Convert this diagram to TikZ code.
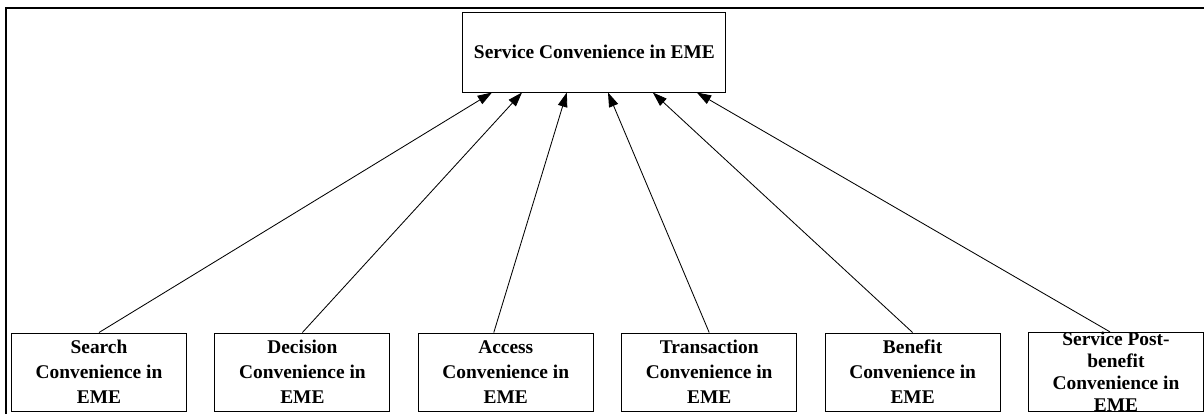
\documentclass[tikz,border=0pt]{standalone}
\usepackage{fontspec}
\setmainfont{Liberation Serif}
\usetikzlibrary{arrows.meta}
\begin{document}
\begin{tikzpicture}[
  box/.style={draw, line width=0.7pt, minimum width=4.375cm, minimum height=1.95cm, align=center, inner sep=0pt, font=\fontsize{13.8}{17.8}\selectfont\bfseries},
  arr/.style={-{Triangle[length=0.36cm,width=0.24cm]}, line width=0.6pt}]
\useasboundingbox (0,0) rectangle (30.1,-10.35);
\draw[line width=1.4pt] (0.15,-10.35) -- (0.15,-0.2) -- (30.1,-0.2);

\node[box, minimum width=6.575cm, minimum height=2cm] (top) at (14.86,-1.3) {Service Convenience in EME};

\node[box] (search) at (2.475,-9.3) {Search\\Convenience in\\EME};
\node[box] (decision) at (7.56,-9.3) {Decision\\Convenience in\\EME};
\node[box] (access) at (12.645,-9.3) {Access\\Convenience in\\EME};
\node[box] (transaction) at (17.73,-9.3) {Transaction\\Convenience in\\EME};
\node[box] (benefit) at (22.815,-9.3) {Benefit\\Convenience in\\EME};
\node[box, font=\fontsize{13.8}{15.6}\selectfont\bfseries] (postbenefit) at (27.9,-9.3) {Service Post-\\benefit\\Convenience in\\EME};

\draw[arr] (search.north) -- ([xshift=-2.56cm]top.south);
\draw[arr] (decision.north) -- ([xshift=-1.81cm]top.south);
\draw[arr] ([xshift=-0.3cm]access.north) -- ([xshift=-0.69cm]top.south);
\draw[arr] (transaction.north) -- ([xshift=0.34cm]top.south);
\draw[arr] (benefit.north) -- ([xshift=1.46cm]top.south);
\draw[arr] ([xshift=-0.15cm]postbenefit.north) -- ([xshift=2.56cm]top.south);
\end{tikzpicture}
\end{document}
